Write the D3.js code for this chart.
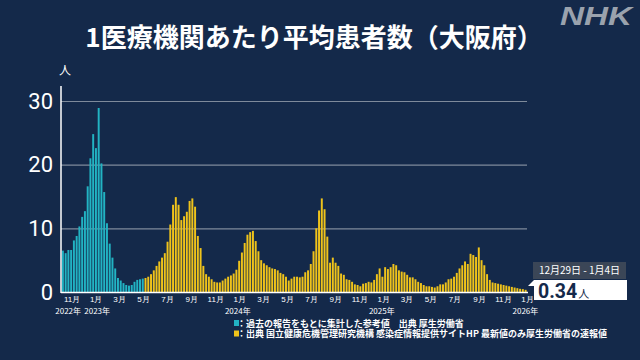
<!DOCTYPE html>
<html>
<head>
<meta charset="utf-8">
<script src="https://cdn.jsdelivr.net/npm/d3@7"></script>
<style>
  body { margin: 0; background: #14294a; }
  svg { display: block; font-family: "Noto Sans CJK JP", "Noto Sans", sans-serif; }
</style>
</head>
<body>
<svg id="chart" width="640" height="360"></svg>
<script>
// weekly values, first week starts 2022-10-10
const FIRST_WEEK = '2022-10-10';

// cyan: past reports (reference values), Oct 2022 - early May 2023
const pastValues = [
  6.5, 6.1, 6.6, 6.6, 8.1, 8.8, 10.3, 11.8, 12.7, 16.6,
  21.0, 24.8, 22.6, 28.9, 20.2, 15.7, 10.8, 7.6, 5.4, 3.7,
  2.2, 1.8, 1.4, 1.1, 1.0, 1.1, 1.6, 1.9, 2.0, 2.1
];

// yellow: sentinel surveillance, from 2023-05-08
const currentValues = [
  2.2, 2.4, 2.8, 3.4, 4.1, 4.8, 5.4, 6.1, 7.9, 10.6,
  13.7, 14.9, 13.7, 11.3, 11.9, 12.6, 14.3, 14.7, 13.4, 8.8,
  6.9, 4.1, 2.8, 2.4, 2.0, 1.6, 1.5, 1.5, 1.8, 2.1,
  2.4, 2.6, 2.9, 3.5, 4.9, 6.2, 7.7, 9.0, 9.4, 9.6,
  8.0, 6.4, 5.0, 4.5, 4.2, 3.9, 3.7, 3.6, 3.4, 3.0,
  2.8, 2.4, 1.8, 2.1, 2.4, 2.4, 2.3, 2.4, 3.1, 3.4,
  4.4, 6.4, 10.0, 12.8, 14.7, 13.0, 8.7, 4.6, 5.4, 4.6,
  4.1, 2.9, 2.7, 2.0, 1.9, 1.6, 1.2, 1.1, 0.9, 1.3,
  1.4, 1.6, 1.5, 1.9, 2.8, 3.7, 2.4, 3.9, 3.6, 3.9,
  4.4, 4.2, 3.4, 3.2, 3.1, 2.7, 2.3, 2.3, 2.0, 1.6,
  1.4, 1.1, 0.9, 0.9, 0.8, 0.7, 0.9, 1.2, 1.2, 1.5,
  2.0, 2.1, 2.4, 3.0, 3.7, 4.2, 4.8, 4.4, 6.0, 5.8,
  5.5, 7.0, 5.0, 4.2, 2.8, 1.9, 1.5, 1.4, 1.3, 1.2,
  1.1, 1.0, 0.9, 0.8, 0.7, 0.6, 0.5, 0.45, 0.34
];

const monthTicks = [
  '2022-11-01', '2023-01-01', '2023-03-01', '2023-05-01', '2023-07-01', '2023-09-01',
  '2023-11-01', '2024-01-01', '2024-03-01', '2024-05-01', '2024-07-01', '2024-09-01',
  '2024-11-01', '2025-01-01', '2025-03-01', '2025-05-01', '2025-07-01', '2025-09-01',
  '2025-11-01', '2026-01-01'
];
const yearTickDates = ['2022-11-01', '2023-01-01', '2024-01-01', '2025-01-01', '2026-01-01'];
const yearTickTexts = ['2022年', '2023年', '2024年', '2025年', '2026年'];
const yTicks = [0, 10, 20, 30];

const titleText = '1医療機関あたり平均患者数（大阪府）';
const latestWeekText = '12月29日 - 1月4日';
const latestValue = 0.34;
const legendTexts = [
  '：過去の報告をもとに集計した参考値　出典 厚生労働省',
  '：出典 国立健康危機管理研究機構 感染症情報提供サイトHP 最新値のみ厚生労働省の速報値'
];

const CYAN = '#22b3c3';
const YELLOW = '#efc31b';

const parse = d3.timeParse('%Y-%m-%d');
const start = parse(FIRST_WEEK);

const weeks = pastValues.map((v) => ({ value: v, kind: 'past' }))
  .concat(currentValues.map((v) => ({ value: v, kind: 'current' })))
  .map((d, i) => ({ ...d, date: d3.timeDay.offset(start, 7 * i) }));

const svg = d3.select('#chart');

const x = d3.scaleTime()
  .domain([start, d3.timeDay.offset(weeks[weeks.length - 1].date, 7)])
  .range([61.5, 527]);
const y = d3.scaleLinear().domain([0, 30]).range([292, 101]);

// title + logo
svg.append('text')
  .attr('x', 314).attr('y', 47)
  .attr('text-anchor', 'middle')
  .attr('fill', '#fff')
  .attr('font-size', 26)
  .attr('font-weight', 'bold')
  .text(titleText);

svg.append('text')
  .attr('x', 560).attr('y', 25)
  .attr('fill', '#9aa2ad')
  .attr('font-family', 'Liberation Sans, sans-serif')
  .attr('font-size', 26)
  .attr('font-weight', 'bold')
  .attr('font-style', 'italic')
  .attr('textLength', 72)
  .attr('lengthAdjust', 'spacingAndGlyphs')
  .text('NHK');

// grid + y labels
const yAxis = svg.append('g')
  .attr('transform', 'translate(61,0)')
  .call(d3.axisLeft(y).tickValues(yTicks).tickSize(-466).tickPadding(8));
yAxis.select('.domain').remove();
yAxis.selectAll('.tick line')
  .attr('stroke', (d) => (d === 0 ? 'none' : '#7e8a9b'))
  .attr('stroke-width', 1.2);
yAxis.selectAll('.tick text')
  .attr('fill', '#fff')
  .attr('font-size', 22)
  .attr('font-family', 'Roboto, sans-serif');

svg.append('text')
  .attr('x', 65).attr('y', 75)
  .attr('text-anchor', 'middle')
  .attr('fill', '#fff')
  .attr('font-size', 12)
  .text('人');

// bars
svg.append('g')
  .selectAll('rect')
  .data(weeks)
  .enter()
  .append('rect')
  .attr('x', (d) => x(d.date) + 0.4)
  .attr('width', (d) => x(d3.timeDay.offset(d.date, 7)) - x(d.date) - 0.8)
  .attr('y', (d) => y(d.value))
  .attr('height', (d) => y(0) - y(d.value))
  .attr('fill', (d) => (d.kind === 'past' ? CYAN : YELLOW));

// axis lines
svg.append('line')
  .attr('x1', 61).attr('x2', 61).attr('y1', 86).attr('y2', 293)
  .attr('stroke', '#fff').attr('stroke-width', 1.5);
svg.append('line')
  .attr('x1', 61).attr('x2', 528).attr('y1', 292.5).attr('y2', 292.5)
  .attr('stroke', '#fff').attr('stroke-width', 1.5);

// x labels
const xAxis = svg.append('g')
  .attr('transform', 'translate(1.5,292)')
  .call(d3.axisBottom(x)
    .tickValues(monthTicks.map(parse))
    .tickFormat((d) => `${d.getMonth() + 1}月`)
    .tickSize(0)
    .tickPadding(4));
xAxis.select('.domain').remove();
xAxis.selectAll('.tick text')
  .attr('fill', '#fff')
  .attr('font-size', 8);

svg.append('g')
  .selectAll('text')
  .data(yearTickDates)
  .enter()
  .append('text')
  .attr('x', (d, i) => x(parse(d)) + (i === 0 ? -2 : i === 1 ? 3 : 0))
  .attr('y', 314)
  .attr('text-anchor', 'middle')
  .attr('fill', '#fff')
  .attr('font-size', 8)
  .text((d, i) => yearTickTexts[i]);

// latest value callout
const callout = svg.append('g');
callout.append('rect')
  .attr('x', 533).attr('y', 262).attr('width', 93).attr('height', 17)
  .attr('fill', '#3b4657');
callout.append('text')
  .attr('x', 579.5).attr('y', 273.5)
  .attr('text-anchor', 'middle')
  .attr('fill', '#fff')
  .attr('font-size', 10)
  .text(latestWeekText);
callout.append('rect')
  .attr('x', 534).attr('y', 280).attr('width', 93).attr('height', 20)
  .attr('fill', '#fff');
callout.append('path')
  .attr('d', 'M528,286 L534,280 L534,286 Z')
  .attr('fill', '#fff');
const valueText = callout.append('text')
  .attr('x', 538).attr('y', 298)
  .attr('fill', '#14294a');
valueText.append('tspan')
  .attr('font-size', 19.5)
  .attr('font-weight', 'bold')
  .attr('font-family', 'Roboto, sans-serif')
  .text(latestValue.toFixed(2));
valueText.append('tspan')
  .attr('font-size', 11)
  .attr('dx', 1)
  .text('人');

// legend
const legend = svg.append('g')
  .selectAll('g')
  .data(legendTexts)
  .enter()
  .append('g')
  .attr('transform', (d, i) => `translate(234,${320 + i * 10.5})`);
legend.append('rect')
  .attr('width', 5).attr('height', 6)
  .attr('fill', (d, i) => (i === 0 ? CYAN : YELLOW));
legend.append('text')
  .attr('x', 3).attr('y', 6.5)
  .attr('fill', '#fff')
  .attr('font-size', 9)
  .attr('font-weight', 'bold')
  .text((d) => d);
</script>
</body>
</html>
